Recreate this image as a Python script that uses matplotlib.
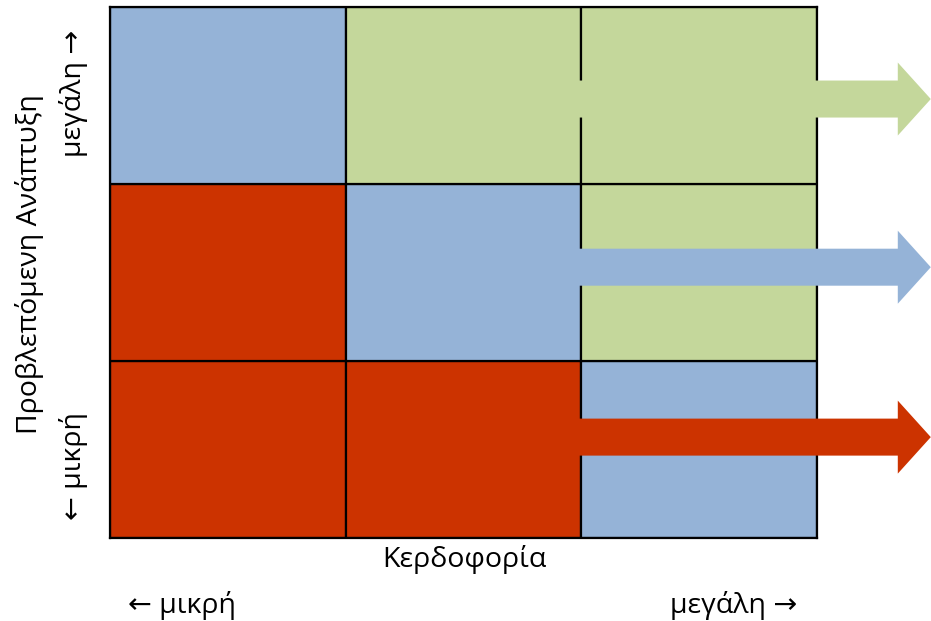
import matplotlib
matplotlib.use("Agg")
import matplotlib.pyplot as plt
from matplotlib.patches import Rectangle, FancyArrow

plt.rcParams['font.family'] = ['Open Sans', 'DejaVu Sans']

# Πίνακας χρωμάτων (γραμμή 0 = κάτω, στήλη 0 = αριστερά)
blue = '#95B3D7'
green = '#C4D79B'
red = '#CC3300'
cells = [
    [red, red, blue],
    [red, blue, green],
    [blue, green, green],
]
# Βέλη: (κέντρο y σε μονάδες γραμμής, χρώμα)
arrow_rows = [0.57, 1.53, 2.48]
arrow_colors = [red, blue, green]

x_label = "Κερδοφορία"
y_label = "Προβλεπόμενη Ανάπτυξη"
low_label = "μικρή"
high_label = "μεγάλη"

W, H = 931, 621
fig = plt.figure(figsize=(W / 100, H / 100), dpi=100)
ax = fig.add_axes([110 / W, (H - 538) / H, 707 / W, 531 / H])
ax.set_xlim(0, 3)
ax.set_ylim(0, 3)
ax.set_xticks([])
ax.set_yticks([])
for s in ax.spines.values():
    s.set_linewidth(1.6)
    s.set_zorder(2)

for r, row in enumerate(cells):
    for c, col in enumerate(row):
        ax.add_patch(Rectangle((c, r), 1, 1, facecolor=col, edgecolor='black',
                               linewidth=1.6, zorder=1))

unit_x = 707 / 3
for yc, col in zip(arrow_rows, arrow_colors):
    ax.add_patch(FancyArrow(1.985, yc, (931 - 578) / unit_x, 0,
                            width=37 / 177, head_width=73 / 177,
                            head_length=33 / unit_x, length_includes_head=True,
                            facecolor=col, edgecolor='none', clip_on=False, zorder=3))

fs = 20.5
fig.text(464 / W, 1 - 560 / H, x_label, ha='center', va='center', fontsize=fs)
fig.text(128 / W, 1 - 605 / H, "← " + low_label, ha='left', va='center', fontsize=fs)
fig.text(797 / W, 1 - 605 / H, high_label + " →", ha='right', va='center', fontsize=fs)
fig.text(30 / W, 1 - 264 / H, y_label, ha='center', va='center', rotation=90, fontsize=fs)
fig.text(74 / W, 1 - 30 / H, high_label + " →", ha='center', va='top', rotation=90, fontsize=fs)
fig.text(74 / W, 1 - 520 / H, "← " + low_label, ha='center', va='bottom', rotation=90, fontsize=fs)

fig.savefig("out.png", dpi=100)
